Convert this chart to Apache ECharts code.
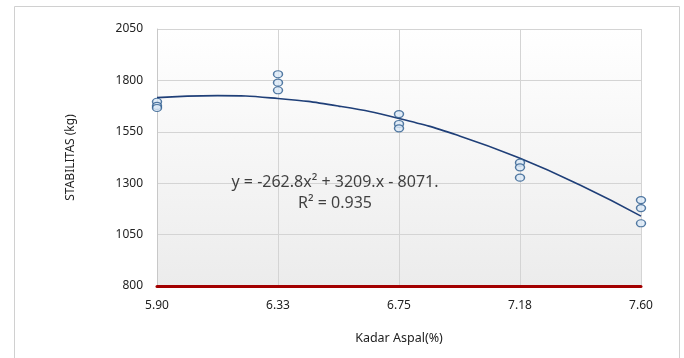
<!DOCTYPE html>
<html><head><meta charset="utf-8">
<script src="https://cdn.jsdelivr.net/npm/echarts@6/dist/echarts.min.js"></script>
<style>html,body{margin:0;padding:0;background:#fff}#c{width:684px;height:358px}</style>
</head><body><div id="c"></div>
<script>
// tick labels of the x axis (Kadar Aspal %)
var xTickLabels = ['5.90', '6.33', '6.75', '7.18', '7.60'];
// measured stability points: x position (index of tick) and value (kg)
var pointX = [0, 0, 0, 1, 1, 1, 2, 2, 2, 3, 3, 3, 4, 4, 4];
var pointY = [1696, 1676, 1666, 1830, 1789, 1752, 1636, 1588, 1567, 1400, 1377, 1327, 1218, 1179, 1105];
// trendline
var trendX = [0, 0.5, 1, 1.5, 2, 2.5, 3, 3.5, 4];
var trendY = [1716, 1726, 1712, 1675, 1615, 1530, 1421, 1290, 1140];
var yTicks = {min: 800, max: 2050, step: 250};

var font = 'Noto Sans';
var chart = echarts.init(document.getElementById('c'));
var pts = pointX.map(function (x, i) { return [x, pointY[i]]; });
var trend = trendX.map(function (x, i) { return [x, trendY[i]]; });

chart.setOption({
  animation: false,
  backgroundColor: '#ffffff',
  graphic: [
    {type: 'rect', shape: {x: 14.5, y: 6.5, width: 665, height: 360}, style: {fill: 'none', stroke: '#d0d0d0', lineWidth: 1}, z: -10}
  ],
  grid: {
    left: 157, right: 43, top: 29, bottom: 72, show: true, borderWidth: 0,
    backgroundColor: new echarts.graphic.LinearGradient(0, 0, 0, 1, [
      {offset: 0, color: '#ffffff'}, {offset: 1, color: '#ececec'}
    ])
  },
  xAxis: {
    type: 'value', min: 0, max: xTickLabels.length - 1, interval: 1,
    name: 'Kadar Aspal(%)', nameLocation: 'middle', nameGap: 46,
    nameTextStyle: {fontFamily: font, fontSize: 12.5, color: '#222'},
    axisLine: {show: true, onZero: false, lineStyle: {color: '#a30000', width: 3}},
    axisTick: {show: false},
    axisLabel: {fontFamily: font, fontSize: 12, color: '#222', margin: 14,
      formatter: function (v) { return xTickLabels[Math.round(v)] || ''; }},
    splitLine: {show: true, lineStyle: {color: '#d4d4d4', width: 1}}
  },
  yAxis: {
    type: 'value', min: yTicks.min, max: yTicks.max, interval: yTicks.step,
    name: 'STABILITAS (kg)', nameLocation: 'middle', nameGap: 80, nameRotate: 90,
    nameTextStyle: {fontFamily: font, fontSize: 12, color: '#222'},
    axisLine: {show: true, lineStyle: {color: '#c8c8c8', width: 1}},
    axisTick: {show: false},
    axisLabel: {fontFamily: font, fontSize: 12, color: '#222', margin: 14,
      formatter: function (v) { return String(v); }},
    splitLine: {show: true, lineStyle: {color: '#d4d4d4', width: 1}}
  },
  series: [
    {
      type: 'line', data: trend, smooth: true, symbol: 'none', z: 2,
      lineStyle: {color: '#1f3f78', width: 1.6}
    },
    {
      type: 'scatter', data: pts, symbol: 'circle', symbolSize: [9, 7], z: 3,
      itemStyle: {color: '#dbe8f6', borderColor: '#2a5a8c', borderWidth: 1.3}
    },
    {
      type: 'scatter', data: [[2, 1300]], symbolSize: 0, silent: true, z: 5,
      label: {
        show: true, position: 'inside', offset: [-64, 10],
        fontFamily: font, fontSize: 16, color: '#111', lineHeight: 21, align: 'center',
        formatter: 'y = -262.8x\u00b2 + 3209.x - 8071.\nR\u00b2 = 0.935'
      }
    }
  ]
});
</script></body></html>
